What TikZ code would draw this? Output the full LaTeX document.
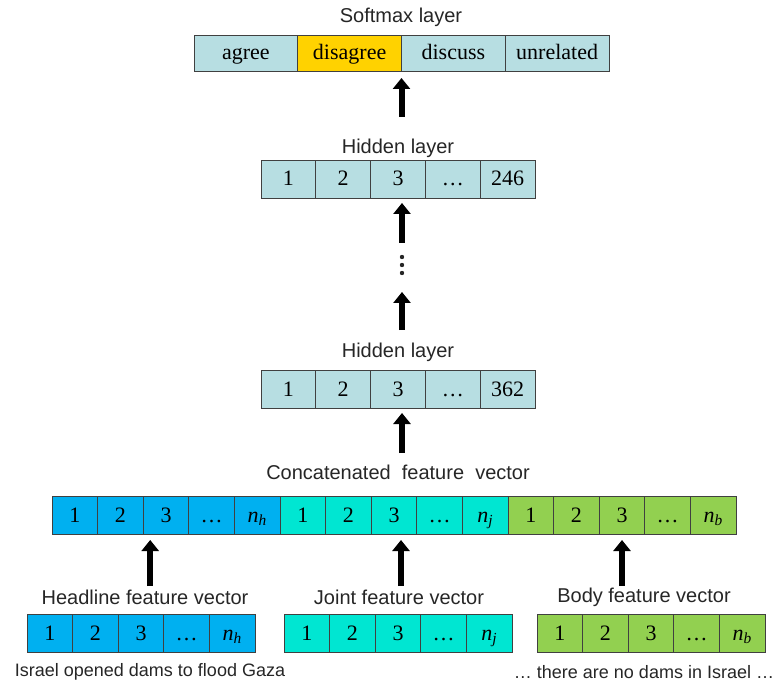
\documentclass[tikz,border=0pt]{standalone}
\usepackage{fontspec}
\setmainfont{Liberation Serif}
\setsansfont{Liberation Sans}
\usetikzlibrary{arrows.meta, positioning}
\definecolor{cellpale}{RGB}{183,222,226}
\definecolor{cellgold}{RGB}{255,210,0}
\definecolor{cellhead}{RGB}{0,176,240}
\definecolor{celljoint}{RGB}{0,230,210}
\definecolor{cellbody}{RGB}{146,208,80}
\definecolor{edgegray}{RGB}{64,64,64}

\begin{document}
\begin{tikzpicture}[x=1pt, y=-1pt,
  cell/.style={draw=edgegray, line width=0.9pt, fill=#1, minimum width=45.6pt,
    minimum height=38pt, inner sep=0pt, outer sep=0pt,
    text height=16pt, text depth=2pt,
    font=\fontsize{22}{22}\selectfont},
  layertitle/.style={font=\sffamily\fontsize{20}{20}\selectfont, text=black!85},
  sentence/.style={font=\sffamily\fontsize{18}{18}\selectfont, text=black!85},
  vdot/.style={circle, fill=black!85, inner sep=0pt, minimum size=4.4pt},
  uparrow/.style={-{Triangle[length=11pt,width=17pt]}, line width=6pt}
]
\useasboundingbox (0,0) rectangle (781,684);

% softmax layer
\node[layertitle] (ttl-sm) at (401,17) {Softmax layer};
\foreach \t/\c [count=\i] in {agree/cellpale, disagree/cellgold, discuss/cellpale, unrelated/cellpale}
  \node[cell=\c, minimum width=103.75pt, minimum height=36pt] (sm-\i) at ({194+103.75*(\i-0.5)},53) {\t};

% hidden layers
\node[layertitle] (ttl-h1) at (398,148) {Hidden layer};
\foreach \t [count=\i] in {1,2,3,…,246}
  \node[cell=cellpale, minimum width=54.8pt] (h1-\i) at ({261+54.8*(\i-0.5)},179) {\t};

% vertical dots
\foreach \i in {1,2,3}
  \node[vdot] (vd-\i) at (402,{249+8*\i}) {};

\node[layertitle] (ttl-h2) at (398,352) {Hidden layer};
\foreach \t [count=\i] in {1,2,3,…,362}
  \node[cell=cellpale, minimum width=54.8pt] (h2-\i) at ({261+54.8*(\i-0.5)},389) {\t};

% concatenated feature vector
\node[layertitle] (ttl-cat) at (398,472) {Concatenated\ \ feature\ \ vector};
\foreach \c/\n [count=\j] in {cellhead/h, celljoint/j, cellbody/b}
  \foreach \t [count=\i] in {1,2,3,…,{\itshape n\textsubscript{\n}}}
    \node[cell=\c] (cat-\n-\i) at ({52+45.6*(5*(\j-1)+\i-0.5)},515) {\t};

% input feature vectors
\node[layertitle] (ttl-h) at (145,597) {Headline\ feature\ vector};
\node[layertitle] (ttl-j) at (399,597) {Joint\ feature\ vector};
\node[layertitle] (ttl-b) at (644,597) {Body\ feature\ vector};
\foreach \c/\n/\x in {cellhead/h/27, celljoint/j/284, cellbody/b/537}
  \foreach \t [count=\i] in {1,2,3,…,{\itshape n\textsubscript{\n}}}
    \node[cell=\c] (in-\n-\i) at ({\x+45.6*(\i-0.5)},633) {\t};

\node[sentence] (snt-h) at (150,672) {Israel opened dams to flood Gaza};
\node[sentence] (snt-b) at (644,672) {… there are no dams in Israel …};

% arrows
\draw[uparrow] ([yshift=-46pt]sm-2.south east) -- ([yshift=-7pt]sm-2.south east);
\draw[uparrow] ([xshift=4pt,yshift=-45pt]h1-3.south) -- ([xshift=4pt,yshift=-5pt]h1-3.south);
\draw[uparrow] ([xshift=4pt,yshift=-132pt]h1-3.south) -- ([xshift=4pt,yshift=-94pt]h1-3.south);
\draw[uparrow] ([xshift=4pt,yshift=-45pt]h2-3.south) -- ([xshift=4pt,yshift=-5pt]h2-3.south);
\draw[uparrow] ([xshift=7pt,yshift=-52pt]cat-h-3.south west) -- ([xshift=7pt,yshift=-6pt]cat-h-3.south west);
\draw[uparrow] ([xshift=7pt,yshift=-52pt]cat-j-3.south) -- ([xshift=7pt,yshift=-6pt]cat-j-3.south);
\draw[uparrow] ([yshift=-52pt]cat-b-3.south) -- ([yshift=-6pt]cat-b-3.south);

\end{tikzpicture}
\end{document}
